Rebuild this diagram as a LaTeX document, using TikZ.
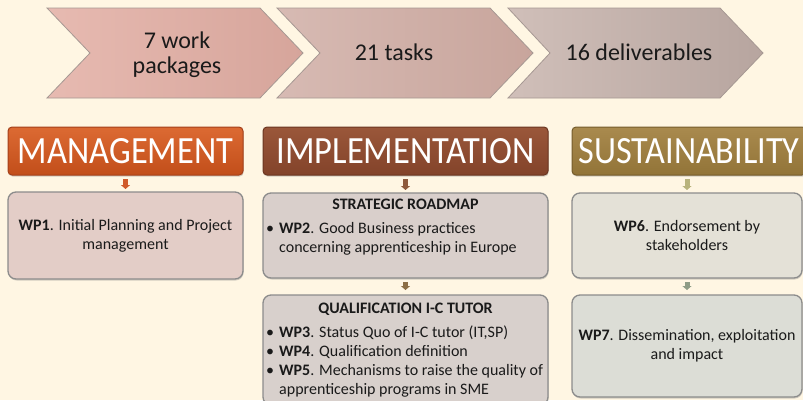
\documentclass[tikz,border=0pt]{standalone}
\usepackage{fontspec}
\usepackage{graphicx}
\setmainfont{Carlito}
\usetikzlibrary{arrows.meta,shadows}
\definecolor{bg}{HTML}{FFF6E3}
\definecolor{txt}{HTML}{1A1A1A}
\definecolor{chevedge}{HTML}{A69893}
\definecolor{cha}{HTML}{E7BAB1}
\definecolor{chb}{HTML}{D6A59B}
\definecolor{chc}{HTML}{D7BAB3}
\definecolor{chd}{HTML}{C8A59C}
\definecolor{che}{HTML}{D0BFB9}
\definecolor{chf}{HTML}{B7A59F}
\definecolor{mgtop}{HTML}{DC6A33}
\definecolor{mgbot}{HTML}{C24E1A}
\definecolor{mgedge}{HTML}{A4401A}
\definecolor{imtop}{HTML}{9A573A}
\definecolor{imbot}{HTML}{83432A}
\definecolor{imedge}{HTML}{6B3621}
\definecolor{sutop}{HTML}{A98A4E}
\definecolor{subot}{HTML}{927438}
\definecolor{suedge}{HTML}{755C2C}
\definecolor{wpone}{HTML}{E3CDC7}
\definecolor{wptwo}{HTML}{D9CFCB}
\definecolor{wpthree}{HTML}{D8D0CC}
\definecolor{wpsix}{HTML}{E4E1D7}
\definecolor{wpseven}{HTML}{DCDDD6}
\definecolor{boxedge}{HTML}{8C8C8C}
\definecolor{arma}{HTML}{D05A2A}
\definecolor{armb}{HTML}{8E5A3C}
\definecolor{armc}{HTML}{8C6E44}
\definecolor{armd}{HTML}{B8B37C}
\definecolor{arme}{HTML}{8E9C86}
\newcommand{\bodyfont}{\fontsize{16}{19}\selectfont}
\begin{document}
\begin{tikzpicture}[x=1pt,y=-1pt,
  chev/.style={draw=chevedge, line width=0.8pt},
  chevtext/.style={font=\fontsize{24}{25}\selectfont, text=txt, inner sep=0pt, align=center},
  hdr/.style={rounded corners=4pt, line width=1pt, inner sep=0pt, outer sep=0pt,
    minimum height=48pt, text=white,
    drop shadow={shadow xshift=0.6pt, shadow yshift=-1.5pt, opacity=0.35}},
  wpbox/.style={rounded corners=8pt, draw=boxedge, line width=1.3pt, inner sep=0pt, outer sep=0pt,
    align=center, font=\bodyfont, text=txt,
    drop shadow={shadow xshift=0.6pt, shadow yshift=-1.5pt, opacity=0.35}},
  title/.style={font=\bodyfont\bfseries, text=txt, inner sep=0pt, anchor=base},
  blist/.style={font=\bodyfont, text=txt, inner sep=0pt, anchor=north west},
  conn/.style={line width=5pt, -{Triangle[width=9pt,length=4pt]}, shorten <=4pt, shorten >=3pt}
]
\path[use as bounding box, fill=bg] (0,0) rectangle (803,400);

% chevrons
\path[chev, left color=cha, right color=chb] (47,8) -- (260,8) -- (303,53) -- (260,98) -- (47,98) -- (90,53) -- cycle;
\path[chev, left color=chc, right color=chd] (277,8) -- (490,8) -- (533,53) -- (490,98) -- (277,98) -- (320,53) -- cycle;
\path[chev, left color=che, right color=chf] (508,8) -- (720,8) -- (763,53) -- (720,98) -- (508,98) -- (550,53) -- cycle;
\node[chevtext] (t1) at (177,55) {7 work\\packages};
\node[chevtext, anchor=base] (t2) at (394,60) {21 tasks};
\node[chevtext, anchor=base] (t3) at (639,60) {16 deliverables};

% headers
\node[hdr, draw=mgedge, top color=mgtop, bottom color=mgbot, minimum width=235pt] (mg) at (125.5,151)
  {\resizebox{215pt}{25pt}{MANAGEMENT}};
\node[hdr, draw=imedge, top color=imtop, bottom color=imbot, minimum width=285pt] (im) at (405.5,151)
  {\resizebox{258pt}{25pt}{IMPLEMENTATION}};
\node[hdr, draw=suedge, top color=sutop, bottom color=subot, minimum width=234pt] (su) at (689,151)
  {\resizebox{221pt}{25pt}{SUSTAINABILITY}};

% boxes
\node[wpbox, fill=wpone, minimum width=235pt, minimum height=87pt] (wp1) at (125.5,235.5)
  {\textbf{WP1}. Initial Planning and Project\\management};
\node[wpbox, fill=wptwo, minimum width=285pt, minimum height=85pt] (sr) at (405.5,235.5) {};
\node[wpbox, fill=wpthree, minimum width=285pt, minimum height=110pt] (qt) at (405.5,350) {};
\node[wpbox, fill=wpsix, minimum width=230pt, minimum height=85pt] (wp6) at (687,235.5)
  {\textbf{WP6}. Endorsement by\\stakeholders};
\node[wpbox, fill=wpseven, minimum width=230pt, minimum height=102pt] (wp7) at (687,346)
  {\textbf{WP7}. Dissemination, exploitation\\and impact};

% box contents
\node[title] (srt) at (405.5,209) {STRATEGIC ROADMAP};
\node[blist] (srl) at (266,219.7) {\begin{tabular}{@{}p{13pt}@{}l@{}}
\textbullet & \textbf{WP2}. Good Business practices\\
 & concerning apprenticeship in Europe
\end{tabular}};
\node[title] (qtt) at (405.5,313) {QUALIFICATION I-C TUTOR};
\node[blist] (qtl) at (266,323.7) {\begin{tabular}{@{}p{13pt}@{}l@{}}
\textbullet & \textbf{WP3}. Status Quo of I-C tutor (IT,SP)\\
\textbullet & \textbf{WP4}. Qualification definition\\
\textbullet & \textbf{WP5}. Mechanisms to raise the quality of\\
 & apprenticeship programs in SME
\end{tabular}};

% connectors
\draw[conn, draw=arma, fill=arma] (mg) -- (wp1);
\draw[conn, draw=armb, fill=armb] (im.south -| sr.north) -- (sr.north);
\draw[conn, draw=armc, fill=armc, shorten >=5pt] (sr) -- (qt);
\draw[conn, draw=armd, fill=armd] (su.south -| wp6.north) -- (wp6.north);
\draw[conn, draw=arme, fill=arme, shorten >=5pt] (wp6) -- (wp7);
\end{tikzpicture}
\end{document}
